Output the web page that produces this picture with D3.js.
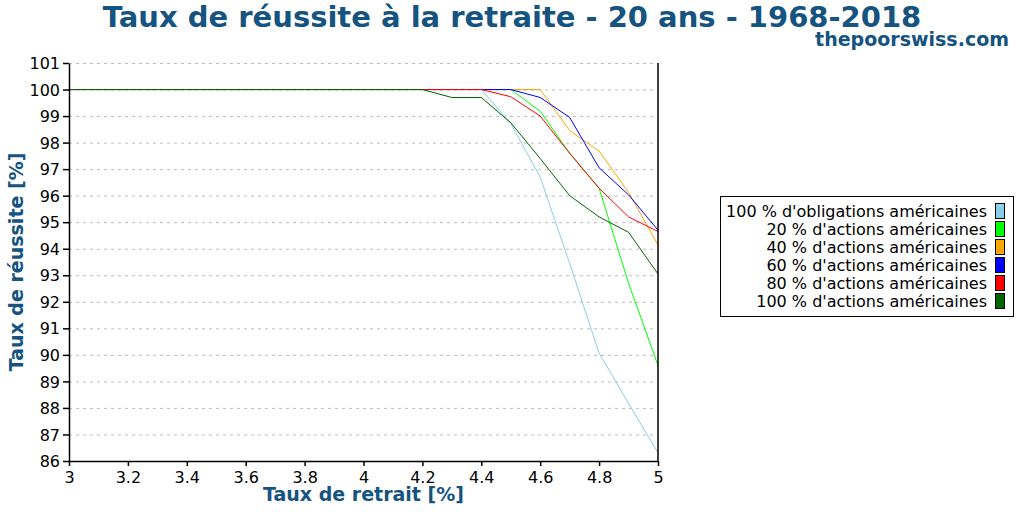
<!DOCTYPE html>
<html><head><meta charset="utf-8">
<script src="https://cdn.jsdelivr.net/npm/d3@7"></script>
<style>body{margin:0;background:#fff}svg{font-family:"DejaVu Sans",sans-serif}</style>
</head><body><svg id="c" width="1024" height="512"></svg>
<script>
const rates = [3.0,3.1,3.2,3.3,3.4,3.5,3.6,3.7,3.8,3.9,4.0,4.1,4.2,4.3,4.4,4.5,4.6,4.7,4.8,4.9,5.0];
const seriesNames = ["100 % d'obligations américaines","20 % d'actions américaines","40 % d'actions américaines","60 % d'actions américaines","80 % d'actions américaines","100 % d'actions américaines"];
const seriesColors = ["#87ceeb","#00ff00","#ffa500","#0000ff","#ff0000","#006400"];
const bonds100 = [100,100,100,100,100,100,100,100,100,100,100,100,100,100,100,98.72,96.7,93.45,90.06,88.17,86.31];
const stocks20 = [100,100,100,100,100,100,100,100,100,100,100,100,100,100,100,100,99.18,97.6,96.28,92.7,89.6];
const stocks40 = [100,100,100,100,100,100,100,100,100,100,100,100,100,100,100,100,100,98.45,97.68,96.12,94.14];
const stocks60 = [100,100,100,100,100,100,100,100,100,100,100,100,100,100,100,100,99.7,98.95,97.05,96.03,94.7];
const stocks80 = [100,100,100,100,100,100,100,100,100,100,100,100,100,100,100,99.73,99.0,97.6,96.28,95.2,94.65];
const stocks100 = [100,100,100,100,100,100,100,100,100,100,100,100,100,99.7,99.7,98.75,97.4,96.0,95.2,94.62,93.05];
const xTicks = [3,3.2,3.4,3.6,3.8,4,4.2,4.4,4.6,4.8,5];
const yTicks = [86,87,88,89,90,91,92,93,94,95,96,97,98,99,100,101];
const titleText = "Taux de réussite à la retraite - 20 ans - 1968-2018";
const siteText = "thepoorswiss.com";
const xLabel = "Taux de retrait [%]";
const yLabel = "Taux de réussite [%]";

const allSeries = [bonds100, stocks20, stocks40, stocks60, stocks80, stocks100];
const svg = d3.select("#c");
const L = 69, R = 658, T = 63, B = 461;
const x = d3.scaleLinear().domain([3,5]).range([L,R]);
const y = d3.scaleLinear().domain([86,101]).range([B,T]);
const blue = "#155380";

// grid
svg.append("g").selectAll("line").data(yTicks.filter(d=>d>86)).join("line")
  .attr("x1",L).attr("x2",R).attr("y1",d=>y(d)+0.5).attr("y2",d=>y(d)+0.5)
  .attr("stroke","#bbb").attr("stroke-width",1).attr("stroke-dasharray","3,4");

// lines
const line = d3.line().x((d,i)=>x(rates[i])).y(d=>y(d));
allSeries.forEach((s,k)=>{
  svg.append("path").datum(s).attr("d",line).attr("fill","none")
    .attr("stroke",seriesColors[k]).attr("stroke-width",1);
});

// axes
const xa = svg.append("g").attr("transform",`translate(0,${B})`)
  .call(d3.axisBottom(x).tickValues(xTicks).tickFormat(d3.format("~g")).tickSize(5).tickSizeOuter(0));
const ya = svg.append("g").attr("transform",`translate(${L},0)`)
  .call(d3.axisLeft(y).tickValues(yTicks).tickFormat(d3.format("d")).tickSize(6).tickSizeOuter(0));
[xa,ya].forEach(a=>{
  a.selectAll("text").attr("font-size",16).attr("font-family","DejaVu Sans").attr("fill","#000");
  a.selectAll("line,path").attr("stroke","#000").attr("stroke-width",1.5);
});
xa.selectAll("text").attr("dy","0.9em");
ya.selectAll("text").attr("dy","0.35em").attr("x",-9);
svg.append("line").attr("x1",R).attr("x2",R).attr("y1",T).attr("y2",B).attr("stroke","#000").attr("stroke-width",1.5);

// title
svg.append("text").attr("x",512).attr("y",27).attr("text-anchor","middle")
  .attr("font-size",29).attr("font-weight","bold").attr("fill",blue).text(titleText);
svg.append("text").attr("x",1009).attr("y",46).attr("text-anchor","end")
  .attr("font-size",19).attr("font-weight","bold").attr("fill",blue).text(siteText);
svg.append("text").attr("x",(L+R)/2).attr("y",501).attr("text-anchor","middle")
  .attr("font-size",19).attr("font-weight","bold").attr("fill",blue).text(xLabel);
svg.append("text").attr("transform",`translate(23,${(T+B)/2}) rotate(-90)`).attr("text-anchor","middle")
  .attr("font-size",19).attr("font-weight","bold").attr("fill",blue).text(yLabel);

// legend
const lg = svg.append("g");
lg.append("rect").attr("x",720.5).attr("y",196.5).attr("width",293).attr("height",120)
  .attr("fill","#fff").attr("stroke","#000").attr("stroke-width",1);
seriesNames.forEach((n,k)=>{
  const cy = 211 + k*18;
  lg.append("text").attr("x",987).attr("y",cy).attr("dy","0.35em").attr("text-anchor","end")
    .attr("font-size",16).attr("fill","#000").text(n);
  lg.append("rect").attr("x",995.5).attr("y",cy-7.5).attr("width",9).attr("height",15)
    .attr("fill",seriesColors[k]).attr("stroke","#000").attr("stroke-width",1);
});
</script></body></html>
